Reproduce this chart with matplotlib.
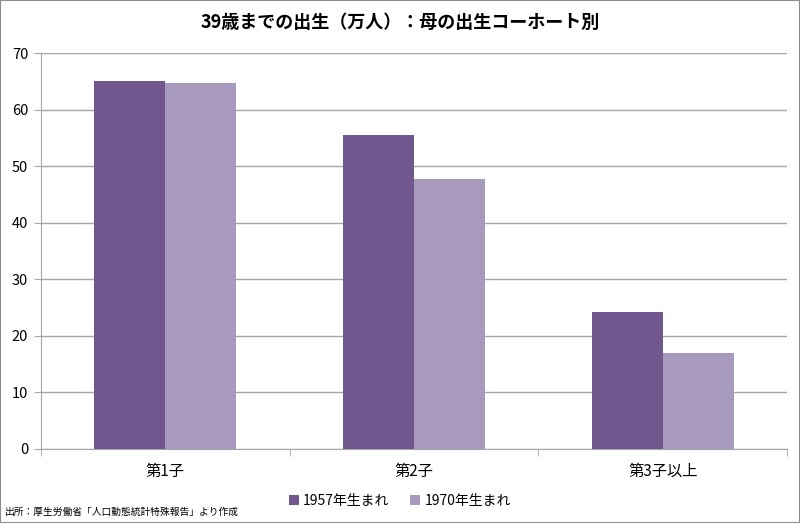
import matplotlib.pyplot as plt
import numpy as np
from matplotlib.patches import Rectangle

plt.rcParams['font.family'] = ['Noto Sans CJK JP', 'DejaVu Sans']

# データ
categories = ['第1子', '第2子', '第3子以上']
series_names = ['1957年生まれ', '1970年生まれ']
births_1957 = [65.0, 55.5, 24.3]
births_1970 = [64.7, 47.7, 17.0]
colors = ['#70588F', '#A89ABE']

fig = plt.figure(figsize=(8, 5.23), dpi=100)
ax = fig.add_axes([0.051, 0.1415, 0.933, 0.757])

x = np.arange(len(categories))
w = 0.285
ax.bar(x - w / 2, births_1957, w, color=colors[0], label=series_names[0], zorder=3)
ax.bar(x + w / 2, births_1970, w, color=colors[1], label=series_names[1], zorder=3)

ax.set_xlim(-0.5, len(categories) - 0.5)
ax.set_ylim(0, 70)
ax.set_yticks(range(0, 71, 10))
ax.yaxis.grid(True, color='#A6A6A6', linewidth=1, zorder=0)
ax.set_xticks(x)
ax.set_xticklabels(categories, fontsize=11)
ax.set_xticks(np.arange(-0.5, len(categories), 1), minor=True)
ax.tick_params(axis='x', which='major', length=0, pad=10)
ax.tick_params(axis='x', which='minor', length=5, color='#A6A6A6')
ax.tick_params(axis='y', length=5, color='#A6A6A6', labelsize=10.5, pad=4)
for s in ['top', 'right']:
    ax.spines[s].set_visible(False)
for s in ['left', 'bottom']:
    ax.spines[s].set_color('#A6A6A6')

fig.suptitle('39歳までの出生（万人）：母の出生コーホート別', x=0.5, y=0.975,
             fontsize=13, fontweight='bold')

fig.legend(loc='center', bbox_to_anchor=(0.5, 0.042), ncol=2, frameon=False,
           fontsize=10, handlelength=0.7, handleheight=0.7, handletextpad=0.3,
           columnspacing=1.5)

fig.text(0.006, 0.022, '出所：厚生労働省「人口動態統計特殊報告」より作成', fontsize=7,
         va='center', ha='left')

fig.patches.append(Rectangle((0, 0), 1, 1, transform=fig.transFigure, fill=False,
                             edgecolor='#8C8C8C', linewidth=1.5))

fig.savefig('out.png', dpi=100)
